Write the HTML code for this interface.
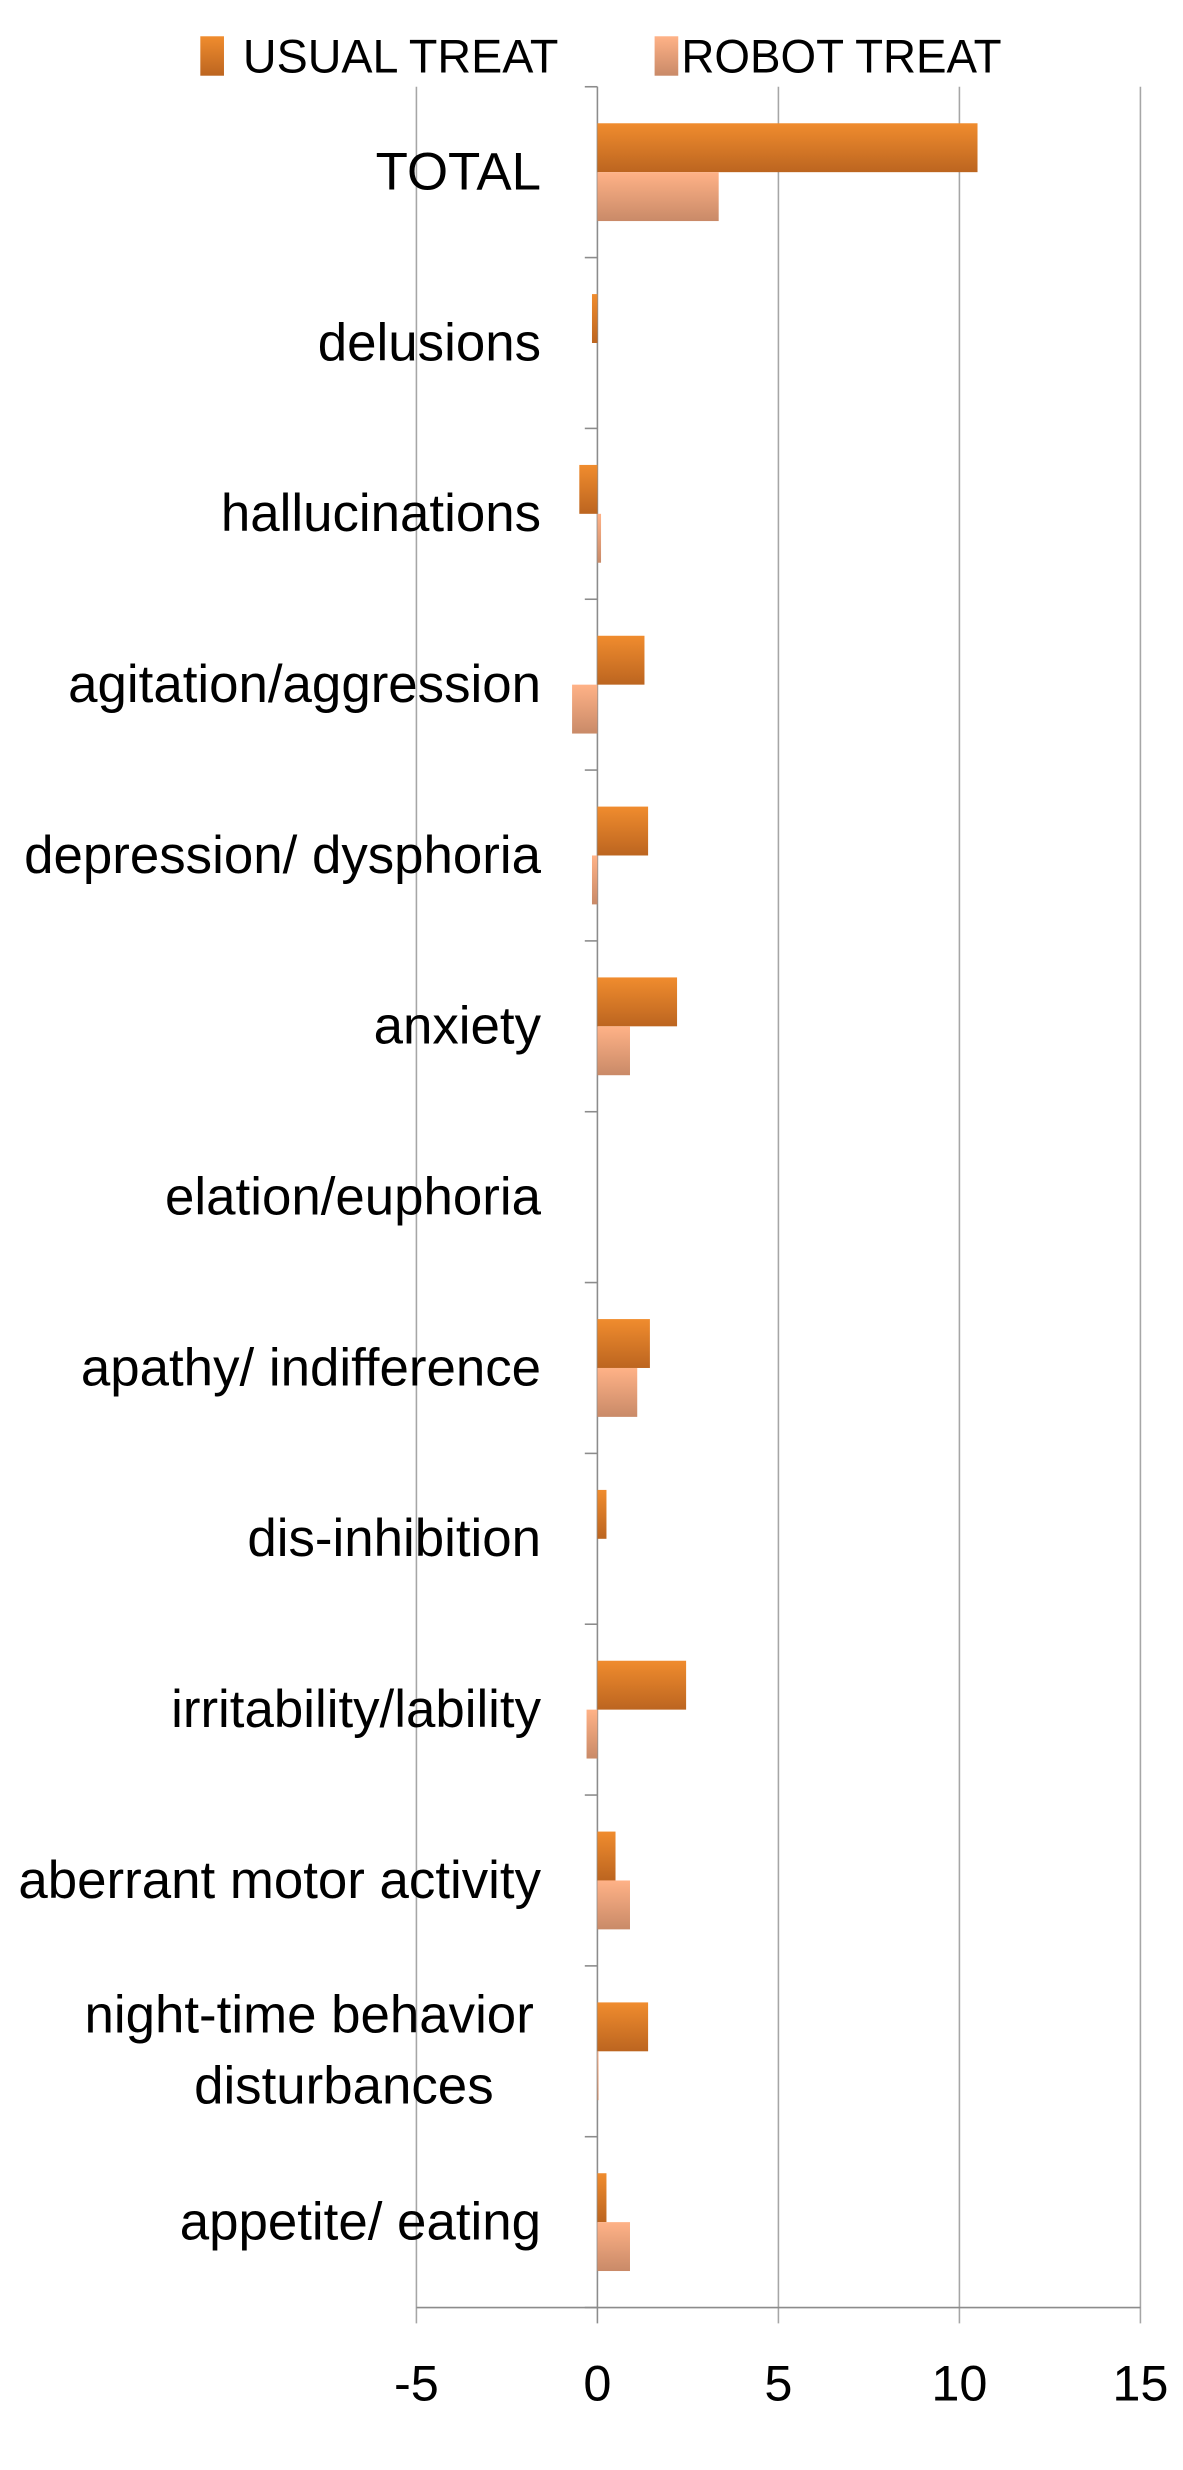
<!DOCTYPE html>
<html><head><meta charset="utf-8"><style>
html,body{margin:0;padding:0;background:#fff;}
svg{display:block;}
text{font-family:"Liberation Sans",sans-serif;fill:#000;}
</style></head><body>
<svg id="chart" width="1183" height="2470" viewBox="0 0 750 1566" preserveAspectRatio="none" xmlns="http://www.w3.org/2000/svg">
<defs>
<linearGradient id="gU" x1="0" y1="0" x2="0" y2="1"><stop offset="0" stop-color="#F08C2E"/><stop offset="1" stop-color="#BC6520"/></linearGradient>
<linearGradient id="gR" x1="0" y1="0" x2="0" y2="1"><stop offset="0" stop-color="#FFB287"/><stop offset="1" stop-color="#C98A68"/></linearGradient>
</defs>
<g>
<rect x="127" y="23" width="15" height="25" fill="url(#gU)"/>
<text x="154" y="46" font-size="30" textLength="200" lengthAdjust="spacingAndGlyphs">USUAL TREAT</text>
<rect x="415" y="23" width="15" height="25" fill="url(#gR)"/>
<text x="432" y="46" font-size="30" textLength="203" lengthAdjust="spacingAndGlyphs">ROBOT TREAT</text>
</g>
<g id="grid"></g>
<g id="bars"></g>
<g id="labels"></g>
</svg>
<script>
const categories = ["TOTAL","delusions","hallucinations","agitation/aggression","depression/ dysphoria","anxiety","elation/euphoria","apathy/ indifference","dis-inhibition","irritability/lability","aberrant motor activity","night-time behavior|disturbances","appetite/ eating"];
const usualValues = [10.5,-0.15,-0.5,1.3,1.4,2.2,0,1.45,0.25,2.45,0.5,1.4,0.25];
const robotValues = [3.35,0,0.1,-0.7,-0.15,0.9,0,1.1,0,-0.3,0.9,0.03,0.9];
const xTicks = [-5,0,5,10,15];

const NS="http://www.w3.org/2000/svg";
const xMin=-5,xMax=15,plotLeft=264,plotRight=723,plotTop=55,plotBottom=1463;
const xs=v=>plotLeft+(v-xMin)/(xMax-xMin)*(plotRight-plotLeft);
const band=(plotBottom-plotTop)/categories.length;
function mk(tag,attrs,parent){const e=document.createElementNS(NS,tag);for(const k in attrs)e.setAttribute(k,attrs[k]);parent.appendChild(e);return e;}
const grid=document.getElementById('grid'),bars=document.getElementById('bars'),labels=document.getElementById('labels');
xTicks.forEach(t=>{
  const l=mk('line',{x1:xs(t),x2:xs(t),y1:plotTop,y2:plotBottom+10,stroke:t===0?'#8c8c8c':'#a6a6a6','stroke-width':1},grid);
  
  
  const tx=mk('text',{x:xs(t),y:1522,'font-size':32,'text-anchor':'middle'},labels);
  tx.textContent=String(t);
  
  
});
const ax=mk('line',{x1:plotLeft,x2:plotRight,y1:plotBottom,y2:plotBottom,stroke:'#8c8c8c','stroke-width':1},grid);


for(let i=0;i<=categories.length;i++){
  const y=plotTop+i*band;
  const tk=mk('line',{x1:xs(0)-8,x2:xs(0),y1:y,y2:y,stroke:'#8c8c8c','stroke-width':1},grid);
  
  
}
categories.forEach((c,i)=>{
  const cy=plotTop+i*band+band/2;
  const bh=31;
  const u=usualValues[i],r=robotValues[i];
  const ru=mk('rect',{x:Math.min(xs(0),xs(u)),y:cy-bh,width:Math.abs(xs(u)-xs(0)),height:bh,fill:'url(#gU)'},bars);
  
  
  const rr=mk('rect',{x:Math.min(xs(0),xs(r)),y:cy,width:Math.abs(xs(r)-xs(0)),height:bh,fill:'url(#gR)'},bars);
  
  
  const parts=c.split('|');
  if(parts.length===1){
    const t=mk('text',{x:343,y:cy+11,'font-size':33.5,'text-anchor':'end'},labels);
    t.textContent=c;
    
    
  } else {
    const t1=mk('text',{x:196,y:cy-12,'font-size':33.5,'text-anchor':'middle'},labels);
    t1.textContent=parts[0];
    
    
    const t2=mk('text',{x:218,y:cy+33,'font-size':33.5,'text-anchor':'middle'},labels);
    t2.textContent=parts[1];
    
    
  }
});
</script>
</body></html>
